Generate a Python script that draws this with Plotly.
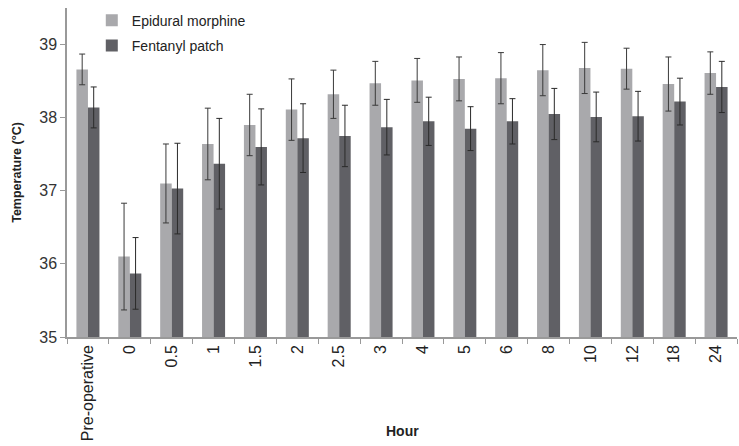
import plotly.graph_objects as go

hours = ["Pre-operative", "0", "0.5", "1", "1.5", "2", "2.5", "3", "4", "5", "6", "8", "10", "12", "18", "24"]

epidural_mean = [38.66, 36.10, 37.10, 37.64, 37.90, 38.11, 38.32, 38.47, 38.51, 38.53, 38.54, 38.65, 38.68, 38.67, 38.46, 38.61]
epidural_sd = [0.21, 0.73, 0.54, 0.49, 0.42, 0.42, 0.33, 0.30, 0.30, 0.30, 0.35, 0.35, 0.35, 0.28, 0.37, 0.29]

fentanyl_mean = [38.14, 35.87, 37.03, 37.37, 37.60, 37.72, 37.75, 37.87, 37.95, 37.85, 37.95, 38.05, 38.01, 38.02, 38.22, 38.42]
fentanyl_sd = [0.28, 0.49, 0.62, 0.62, 0.52, 0.47, 0.42, 0.38, 0.33, 0.30, 0.31, 0.35, 0.34, 0.34, 0.32, 0.35]

y_ticks = [35, 36, 37, 38, 39]

FONT = "Liberation Sans, Arial, sans-serif"

fig = go.Figure()
fig.add_trace(go.Bar(
    name="Epidural morphine", x=hours, y=epidural_mean,
    marker=dict(color="#a9a9ac", line=dict(width=0)),
    error_y=dict(type="data", array=epidural_sd, color="#3a3a3a", thickness=1, width=3),
    legendgroup="a",
))
fig.add_trace(go.Bar(
    name="Fentanyl patch", x=hours, y=fentanyl_mean,
    marker=dict(color="#606065", line=dict(width=0)),
    error_y=dict(type="data", array=fentanyl_sd, color="#2a2a2a", thickness=1, width=3),
    legendgroup="b",
))

fig.update_layout(
    width=739, height=446,
    margin=dict(l=67, r=2, t=8, b=109),
    paper_bgcolor="white", plot_bgcolor="white",
    barmode="group", bargap=0.45, bargroupgap=0,
    font=dict(family=FONT, color="#222"),
    legend=dict(
        x=0.037, y=1.01, xanchor="left", yanchor="top",
        font=dict(size=14, color="#222"),
        traceorder="grouped", tracegroupgap=4,
        bgcolor="rgba(0,0,0,0)", itemwidth=30,
    ),
    xaxis=dict(
        type="category",
        showline=True, linecolor="#999", linewidth=1.5,
        ticks="outside", tickson="boundaries", ticklen=5, tickcolor="#999",
        tickangle=-90, tickfont=dict(size=16, color="#222"),
        showgrid=False,
    ),
    yaxis=dict(
        range=[35, 39.5], tickvals=y_ticks,
        showline=True, linecolor="#999", linewidth=1.5,
        ticks="outside", ticklen=5, tickcolor="#999",
        tickfont=dict(size=16, color="#333"),
        title=dict(text="<b>Temperature (°C)</b>", font=dict(size=12.5), standoff=15),
        showgrid=False, zeroline=False,
    ),
    annotations=[dict(
        text="<b>Hour</b>", xref="paper", yref="paper", x=0.5, y=-0.285,
        xanchor="center", yanchor="middle", showarrow=False,
        font=dict(size=14, color="#222"),
    )],
)

fig.write_html("out.html")
